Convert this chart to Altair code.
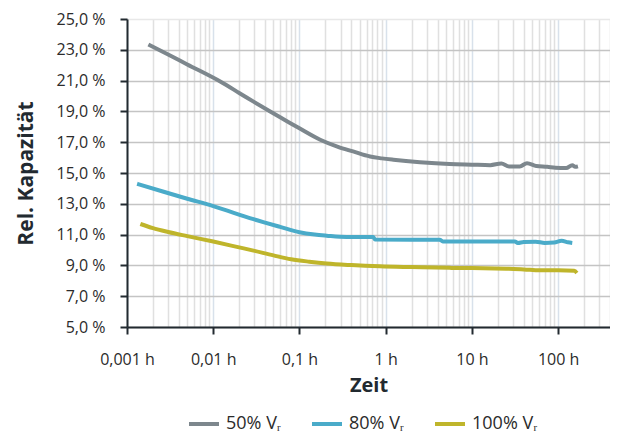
import altair as alt
import pandas as pd

# --- data (time in hours, capacitance change in %) ---
t_50 = [0.00177, 0.003, 0.005, 0.01206, 0.02, 0.03, 0.0458, 0.07, 0.1, 0.174, 0.28, 0.419,
        0.659, 0.9, 1.23, 2.5, 5.5, 10.0, 16.3, 22.0, 27.0, 36.0, 43.6, 56.0, 75.0, 93.0,
        124.0, 146.0, 158.0, 170.0]
v_50 = [23.35, 22.7, 22.05, 20.94, 20.2, 19.6, 18.99, 18.4, 17.9, 17.16, 16.7, 16.4,
        16.07, 15.95, 15.86, 15.7, 15.58, 15.54, 15.51, 15.62, 15.43, 15.43, 15.64, 15.45,
        15.4, 15.34, 15.32, 15.51, 15.4, 15.43]

t_80 = [0.00131, 0.00266, 0.005, 0.01, 0.0293, 0.0597, 0.1, 0.15, 0.207, 0.352, 0.5,
        0.72, 0.75, 2.0, 4.24, 4.6, 10.0, 31.5, 34.0, 40.0, 55.0, 70.0, 90.0, 110.0, 130.0,
        146.0]
v_80 = [14.30, 13.78, 13.33, 12.85, 12.0, 11.5, 11.15, 11.0, 10.93, 10.85, 10.85,
        10.84, 10.68, 10.67, 10.67, 10.56, 10.56, 10.56, 10.46, 10.52, 10.54, 10.46, 10.48,
        10.60, 10.50, 10.46]

t_100 = [0.00143, 0.002, 0.003, 0.005, 0.01, 0.02, 0.0293, 0.05, 0.08, 0.13, 0.207, 0.4,
         0.86, 2.0, 5.5, 10.0, 25.0, 40.0, 61.0, 100.0, 154.0, 165.0]
v_100 = [11.69, 11.42, 11.17, 10.9, 10.55, 10.17, 9.96, 9.65, 9.4, 9.24, 9.12, 9.02,
         8.94, 8.89, 8.84, 8.83, 8.78, 8.74, 8.68, 8.68, 8.66, 8.51]

series_names = ["50% Vᵣ", "80% Vᵣ", "100% Vᵣ"]
series_colors = ["#7d878d", "#4aabc9", "#bfb52b"]

y_ticks = [5, 7, 9, 11, 13, 15, 17, 19, 21, 23, 25]
x_grid = [round(m * 10 ** e, 6) for e in range(-3, 3) for m in range(1, 10)]
x_domain = [0.001, 400]

rows = []
for name, ts, vs in zip(series_names, [t_50, t_80, t_100], [v_50, v_80, v_100]):
    for i, (t, v) in enumerate(zip(ts, vs)):
        rows.append({"Zeit": t, "Wert": v, "Serie": name, "i": i})
df = pd.DataFrame(rows)

decade = "abs(log(datum.value)/LN10 - round(log(datum.value)/LN10)) < 0.001"
FONT = "Open Sans"

chart = alt.Chart(df).mark_line(strokeWidth=4, strokeCap="butt", strokeJoin="round",
                                interpolate="monotone").encode(
    x=alt.X(
        "Zeit:Q",
        title="Zeit",
        scale=alt.Scale(type="log", domain=x_domain, nice=False),
        axis=alt.Axis(
            values=x_grid,
            labelExpr=f"({decade}) ? replace(format(datum.value, '~g'), '.', ',') + ' h' : ''",
            grid=True,
            gridColor={"condition": {"test": decade, "value": "#d8e1eb"}, "value": "#e0e0e0"},
            gridWidth=1.5,
            tickSize=7,
            tickWidth=2,
            tickColor="#222a30",
            tickOpacity={"condition": {"test": decade, "value": 1}, "value": 0},
            domainColor="#222a30",
            domainWidth=2,
            labelFont=FONT,
            labelFontSize=16,
            labelColor="#2b2b2b",
            labelPadding=17,
            labelFlush=False,
            titleFont=FONT,
            titleFontSize=20,
            titleFontWeight="bold",
            titleColor="#222a30",
            titlePadding=8,
        ),
    ),
    y=alt.Y(
        "Wert:Q",
        title="Rel. Kapazität",
        scale=alt.Scale(domain=[5, 25], nice=False),
        axis=alt.Axis(
            values=y_ticks,
            labelExpr="replace(format(datum.value, '.1f'), '.', ',') + ' %'",
            grid=True,
            gridColor={"condition": {"test": "datum.value >= 25", "value": "#e8e8e8"}, "value": "#c4c4c4"},
            gridWidth=1.5,
            tickSize=7,
            tickWidth=2,
            tickColor="#222a30",
            domainColor="#222a30",
            domainWidth=2,
            labelFont=FONT,
            labelFontSize=16,
            labelColor="#2b2b2b",
            labelPadding=15,
            titleFont=FONT,
            titleFontSize=21,
            titleFontWeight="bold",
            titleColor="#222a30",
            titlePadding=20,
        ),
    ),
    color=alt.Color(
        "Serie:N",
        scale=alt.Scale(domain=series_names, range=series_colors),
        legend=alt.Legend(
            title=None,
            orient="none",
            direction="horizontal",
            legendX=60,
            legendY=388,
            symbolType="stroke",
            symbolSize=900,
            symbolStrokeWidth=4,
            labelFont=FONT,
            labelFontSize=18,
            labelColor="#2b2b2b",
            labelOffset=5,
            columnPadding=22,
        ),
    ),
    order="i:Q",
).properties(
    width=483,
    height=308,
    autosize=alt.AutoSizeParams(type="none"),
    padding={"left": 119, "top": 11, "right": 0, "bottom": 112},
).configure_view(stroke=None)

chart.save("out.html", embed_options={"renderer": "svg", "actions": False})
